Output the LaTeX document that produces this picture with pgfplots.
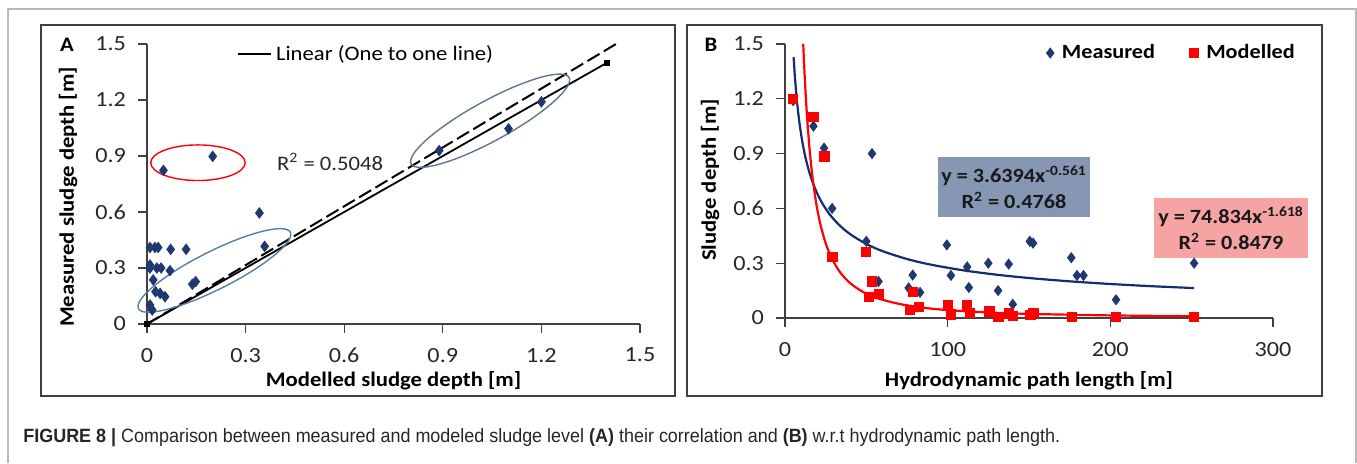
\documentclass[border=0pt]{standalone}
\usepackage{pgfplots}
\pgfplotsset{compat=1.18}
\usepackage{fontspec}
\setmainfont[FakeStretch=1.1]{Carlito}
\newfontfamily\tickfont[FakeStretch=1.12]{Carlito}
\newfontfamily\capfont[FakeStretch=0.935]{Liberation Sans}
\definecolor{navy}{RGB}{31,56,110}
\definecolor{trendblue}{RGB}{22,44,110}
\definecolor{ellblue}{RGB}{84,125,168}
\definecolor{ellgray}{RGB}{95,118,145}
\definecolor{boxblue}{RGB}{133,151,178}
\definecolor{boxred}{RGB}{245,163,163}
\definecolor{xred}{RGB}{255,0,0}

\pgfplotsset{
  panel/.style={
    scale only axis, axis lines=left,
    axis line style={black!75, line width=0.6pt, -},
    tick style={black!75, line width=0.6pt},
    tick align=outside, major tick length=4.5pt,
    tick label style={font=\tickfont\fontsize{10.8}{12}\selectfont, text=black!85},
    yticklabel style={xshift=-2.5pt},
    xticklabel style={yshift=-4pt},
    /pgf/number format/assume math mode=true,
    clip=false,
    label style={font=\bfseries\fontsize{10.3}{12}\selectfont, text=black},
    ymin=0, ymax=1.5, ytick={0,0.3,0.6,0.9,1.2,1.5},
    yticklabels={0,0.3,0.6,0.9,1.2,1.5},
  }
}

\begin{document}
\begin{tikzpicture}
\useasboundingbox (0,0) rectangle (678.5pt,231.5pt);
\draw[gray!55, line width=0.6pt] (4pt,0pt) -- (4pt,227pt) -- (678pt,227pt) -- (678pt,0pt);
\draw[black!75, line width=0.8pt] (20.5pt,33.5pt) rectangle (337.5pt,219pt);
\draw[black!75, line width=0.8pt] (343.5pt,33.5pt) rectangle (661pt,219pt);

% ---------------- Panel A ----------------
\begin{axis}[panel,
  at={(73.5pt,69.5pt)}, anchor=origin,
  width=246.5pt, height=140pt,
  xmin=0, xmax=1.5, xtick={0,0.3,0.6,0.9,1.2,1.5},
  xticklabels={0,0.3,0.6,0.9,1.2,1.5},
  xlabel={Modelled sludge depth [m]},
  ylabel={Measured sludge depth [m]},
  xlabel style={at={(axis description cs:0.5,-0.2036)}, anchor=center},
  ylabel style={at={(axis description cs:-0.160,0.4536)}, anchor=center},
  legend style={draw=none, fill=none, at={(axis description cs:0.1826,0.964)},
    anchor=west, inner xsep=0pt, inner ysep=0pt,
    font=\fontsize{10.3}{12}\selectfont},
  legend image code/.code={\draw[black, line width=0.8pt] (0pt,0pt) -- (16.5pt,0pt);},
]
\addplot[only marks, mark=diamond*, mark size=2.6pt, color=navy, forget plot] coordinates {
(0.05,0.823) (0.20,0.898) (0.342,0.595) (0.358,0.416) (0.889,0.929)
(1.10,1.046) (1.20,1.19) (0.009,0.41) (0.024,0.41) (0.034,0.41)
(0.072,0.40) (0.119,0.40) (0.009,0.316) (0.009,0.30) (0.03,0.30)
(0.043,0.30) (0.07,0.286) (0.019,0.236) (0.026,0.173) (0.04,0.164)
(0.055,0.146) (0.138,0.213) (0.148,0.227) (0.009,0.102) (0.016,0.075)
};
\addplot[black, line width=1pt, dash pattern=on 7pt off 2.5pt, forget plot] coordinates {(0,0) (1.427,1.5)};
\addplot[black, line width=0.9pt, mark=square*, mark size=1.1pt] coordinates {(0,0) (1.4,1.4)};
\addlegendentry{Linear (One to one line)}
\draw[ellblue, line width=0.7pt, rotate around={26.7:(axis cs:0.205,0.287)}]
  (axis cs:0.205,0.287) ellipse [x radius=42.5pt, y radius=9.5pt];
\draw[ellgray, line width=0.7pt, rotate around={28.7:(axis cs:1.044,1.089)}]
  (axis cs:1.044,1.089) ellipse [x radius=45pt, y radius=10pt];
\draw[xred, line width=0.7pt] (axis cs:0.155,0.864) ellipse [x radius=23.6pt, y radius=8.9pt];
\node[font=\fontsize{10.3}{12}\selectfont, text=black!85] at (axis cs:0.557,0.868) {R\textsuperscript{2} = 0.5048};
\end{axis}
\node[font=\bfseries\fontsize{10.3}{12}\selectfont] at (33.5pt,209pt) {A};

% ---------------- Panel B ----------------
\begin{axis}[panel,
  at={(392.5pt,72.5pt)}, anchor=origin,
  width=244pt, height=137pt,
  xmin=0, xmax=300, xtick={0,100,200,300},
  xlabel={Hydrodynamic path length [m]},
  ylabel={Sludge depth [m]},
  xlabel style={at={(axis description cs:0.5,-0.23)}, anchor=center},
  ylabel style={at={(axis description cs:-0.1537,0.5036)}, anchor=center},
  legend columns=2,
  legend style={draw=none, fill=none, at={(axis description cs:0.535,0.967)},
    anchor=west, inner xsep=0pt, inner ysep=0pt,
    font=\bfseries\fontsize{10.1}{12}\selectfont,
    /tikz/every odd column/.append style={column sep=2pt},
    /tikz/every even column/.append style={column sep=15pt}},
  legend image code/.code={\draw[#1] plot coordinates {(2pt,0pt)};},
]
\addplot[only marks, mark=diamond*, mark size=2.5pt, color=navy] coordinates {
(5,1.19) (17.5,1.05) (24,0.93) (29,0.60) (50,0.42) (53.5,0.90) (57.5,0.20)
(76,0.165) (78.5,0.235) (83,0.14) (99.5,0.40) (102,0.233) (112,0.28)
(113,0.167) (125,0.30) (131,0.15) (137.5,0.295) (140,0.075) (150.5,0.42)
(152.5,0.41) (176,0.33) (179.5,0.233) (183.5,0.233) (203.5,0.10) (251.5,0.30)
};
\addlegendentry{Measured}
\addplot[only marks, mark=square*, mark size=2.3pt, color=xred] coordinates {
(5,1.2) (17.5,1.1) (24.2,0.885) (29.1,0.336) (49.8,0.36) (51.8,0.115)
(53.5,0.2) (57.6,0.13) (77,0.045) (78.5,0.145) (82.5,0.06) (100,0.069)
(102,0.02) (112,0.069) (113.5,0.03) (125.6,0.036) (131.2,0.007) (137.6,0.025)
(140.2,0.012) (150.8,0.015) (152.7,0.03) (176.2,0.007) (203.5,0.007) (251.5,0.007)
};
\addlegendentry{Modelled}
\addplot[trendblue, line width=1.1pt, smooth, forget plot] coordinates {
(5.3,1.428) (6,1.332) (7,1.2215) (8,1.1334) (9,1.061) (10,1.0001) (11,0.948)
(12,0.9029) (13,0.8632) (15,0.7966) (18,0.7192) (22,0.6426) (27,0.5728)
(33,0.5119) (40,0.4594) (50,0.4054) (60,0.3660) (75,0.3229) (90,0.2915)
(110,0.2605) (130,0.2372) (150,0.2189) (175,0.2008) (200,0.1862) (225,0.1743)
(251.5,0.1638)
};
\addplot[xred, line width=1.1pt, smooth, forget plot] coordinates {
(11.2,1.5012) (11.6,1.418) (12,1.3426) (12.5,1.2568) (13,1.1796) (13.5,1.1096)
(14,1.0462) (15,0.9357) (16,0.843) (17,0.7642) (19,0.6383) (20.5,0.5645)
(22,0.5035) (25,0.4095) (29,0.3220) (34,0.2490) (40,0.1914) (48,0.1425)
(57,0.1079) (70,0.0774) (85,0.0565) (100,0.0434) (125,0.0303) (150,0.0226)
(200,0.0142) (251.5,0.0098)
};
\node[fill=boxblue, minimum width=76pt, minimum height=30pt, inner sep=0pt,
  align=center, font=\bfseries\fontsize{10.1}{13}\selectfont, text=black!90]
  at (axis cs:140.8,0.717) {y = 3.6394x\textsuperscript{-0.561}\\R\textsuperscript{2} = 0.4768};
\node[fill=boxred, minimum width=77pt, minimum height=30pt, inner sep=0pt,
  align=center, font=\bfseries\fontsize{10.1}{13}\selectfont, text=black!90]
  at (axis cs:274.2,0.493) {y = 74.834x\textsuperscript{-1.618}\\R\textsuperscript{2} = 0.8479};
\end{axis}
\node[font=\bfseries\fontsize{10.3}{12}\selectfont] at (355.5pt,209pt) {B};

\node[anchor=base west, inner sep=0pt, font=\capfont\fontsize{9.6}{11}\selectfont, text=black!85]
  at (11.5pt,10.5pt) {\textbf{FIGURE 8 |} Comparison between measured and modeled sludge level \textbf{(A)} their correlation and \textbf{(B)} w.r.t hydrodynamic path length.};
\end{tikzpicture}
\end{document}
